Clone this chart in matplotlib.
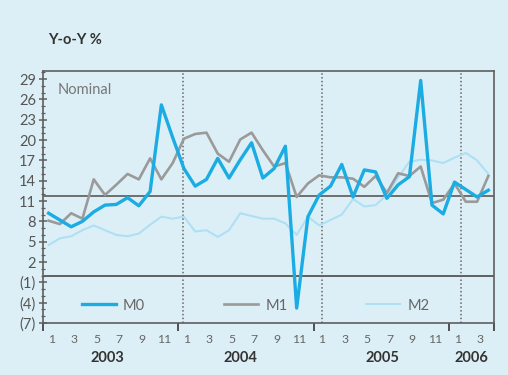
import matplotlib
matplotlib.use('Agg')
import matplotlib.pyplot as plt
from matplotlib.ticker import FixedLocator, FuncFormatter

plt.rcParams['font.family'] = ['Lato', 'DejaVu Sans']

# Datos mensuales, ene 2003 - abr 2006
m0 = [9.2, 8.2, 7.2, 8.0, 9.4, 10.4, 10.5, 11.5, 10.3, 12.4,
      25.2, 20.4, 15.8, 13.2, 14.2, 17.3, 14.4, 17.1, 19.6, 14.4,
      15.8, 19.1, -4.8, 8.7, 11.9, 13.2, 16.4, 11.6, 15.6, 15.3,
      11.4, 13.4, 14.6, 28.8, 10.4, 9.1, 13.8, 12.7, 11.6, 12.6]
m1 = [8.1, 7.6, 9.2, 8.4, 14.2, 11.9, 13.4, 15.0, 14.2, 17.3,
      14.2, 16.6, 20.2, 20.9, 21.1, 18.0, 16.8, 20.1, 21.1, 18.5,
      16.1, 16.6, 11.6, 13.6, 14.8, 14.5, 14.5, 14.3, 13.1, 14.7,
      12.2, 15.1, 14.7, 16.1, 10.7, 11.2, 13.6, 10.9, 10.9, 14.7]
m2 = [4.5, 5.5, 5.8, 6.7, 7.4, 6.7, 6.0, 5.8, 6.2, 7.5,
      8.7, 8.4, 8.7, 6.5, 6.7, 5.7, 6.7, 9.2, 8.8, 8.4,
      8.4, 7.7, 6.0, 8.7, 7.4, 8.2, 9.0, 11.3, 10.2, 10.4,
      11.9, 14.5, 16.8, 17.1, 17.0, 16.6, 17.4, 18.1, 17.0, 15.0]
month_labels = ['1', '3', '5', '7', '9', '11'] * 3 + ['1', '3']
years = ['2003', '2004', '2005', '2006']
avg_line = 11.7

x = list(range(len(m0)))
month_pos = [i + 0.25 for i in range(0, 40, 2)]
year_pos = [5.2, 17.0, 29.6, 37.5]
year_lines = [11.95, 24.25, 36.55]

bg = '#ddeff6'
dark = '#5e5e5e'

fig = plt.figure(figsize=(5.08, 3.75), dpi=100, facecolor=bg)
ax = fig.add_axes([0.0846, 0.1387, 0.8878, 0.672], facecolor=bg)

# lineas de referencia
ax.axhline(avg_line, color='#6e6e6e', lw=1.4, zorder=1)
ax.axhline(0, color='#555555', lw=1.3, zorder=1)
for xv in year_lines:
    ax.axvline(xv, color='#666666', lw=1.1, ls=(0, (1, 1.5)), zorder=1)

ax.plot(x, m2, color='#aee0f5', lw=1.5, label='M2', zorder=2)
ax.plot(x, m1, color='#9a9a9a', lw=1.9, label='M1', zorder=3)
ax.plot(x, m0, color='#1aace3', lw=2.4, label='M0', zorder=4)

ax.set_xlim(-0.5, 39.5)
ax.set_ylim(-7, 30.2)

# eje Y
ax.yaxis.set_major_locator(FixedLocator(list(range(-7, 30, 3))))
ax.yaxis.set_minor_locator(FixedLocator(list(range(-7, 31))))
ax.yaxis.set_major_formatter(FuncFormatter(lambda v, p: f'({abs(int(v))})' if v < 0 else f'{int(v)}'))
ax.tick_params(axis='y', which='major', direction='inout', length=6, width=1.1,
               color=dark, labelsize=10.5, labelcolor='#555555', pad=2)
ax.tick_params(axis='y', which='minor', direction='inout', length=3, width=0.9, color=dark)

# eje X: separadores de año como ticks mayores, meses como etiquetas menores
ax.xaxis.set_major_locator(FixedLocator([-0.5, 11.5, 23.5, 35.5, 39.5]))
ax.xaxis.set_major_formatter(FuncFormatter(lambda v, p: ''))
ax.xaxis.set_minor_locator(FixedLocator(month_pos))
ax.xaxis.set_minor_formatter(FuncFormatter(lambda v, p: month_labels[p] if p is not None and p < len(month_labels) else ''))
ax.tick_params(axis='x', which='major', direction='out', length=6, width=1.3, color='#444444')
ax.tick_params(axis='x', which='minor', length=0, labelsize=8.8, labelcolor='#666666', pad=8)

for s in ax.spines.values():
    s.set_color(dark)
    s.set_linewidth(1.2)

for yp, yr in zip(year_pos, years):
    ax.text(yp, -0.14, yr, transform=ax.get_xaxis_transform(), ha='center', va='center',
            fontsize=10.5, fontweight='bold', color='#333333')

ax.text(0.033, 0.925, 'Nominal', transform=ax.transAxes, ha='left', va='center',
        fontsize=10.5, color='#777777')

fig.text(0.0945, 0.892, 'Y-o-Y %', ha='left', va='center', fontsize=10.5,
         fontweight='bold', color='#333333')

handles, labels = ax.get_legend_handles_labels()
order = [2, 1, 0]
ax.legend([handles[i] for i in order], [labels[i] for i in order], ncol=3,
          loc='center left', bbox_to_anchor=(0.086, 0.069), borderaxespad=0, borderpad=0,
          frameon=False, fontsize=10.5, handlelength=2.33, handletextpad=0.5,
          columnspacing=5.4, labelcolor='#666666')

plt.savefig('out.png', dpi=100, facecolor=bg)
